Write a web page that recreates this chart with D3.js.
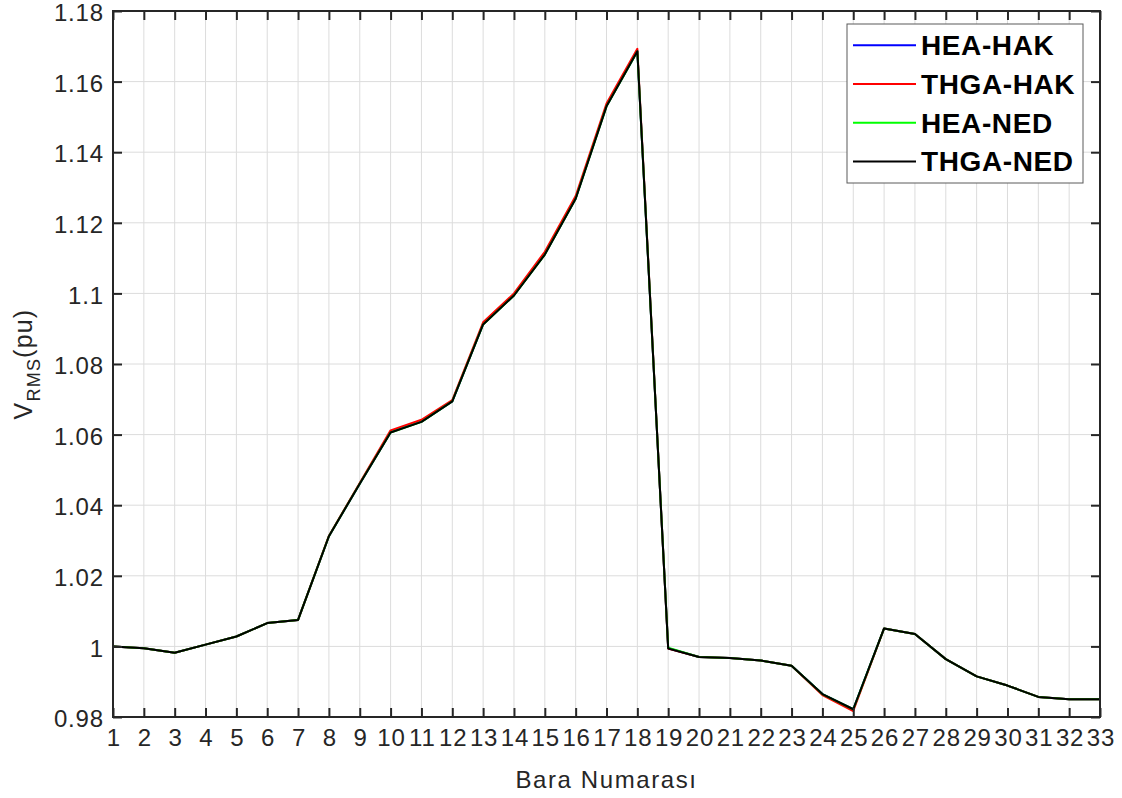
<!DOCTYPE html>
<html><head><meta charset="utf-8">
<script src="https://cdn.jsdelivr.net/npm/d3@7"></script>
<style>body{margin:0;background:#fff;} svg{display:block;font-family:"Liberation Sans",Arial,sans-serif;}</style>
</head><body>
<svg id="c" width="1122" height="798"></svg>
<script>
const buses = d3.range(1, 34);
const yTicks = [0.98, 1, 1.02, 1.04, 1.06, 1.08, 1.1, 1.12, 1.14, 1.16, 1.18];
const seriesNames = ["HEA-HAK", "THGA-HAK", "HEA-NED", "THGA-NED"];
const seriesColors = ["#0000ff", "#ff0000", "#00ff00", "#000000"];

const heaHak  = [1.0000,0.9995,0.9982,1.0005,1.0028,1.0066,1.0075,1.0312,1.0461,1.0607,1.0637,1.0694,1.0913,1.0995,1.1111,1.1269,1.1531,1.1686,0.9995,0.9970,0.9967,0.9960,0.9945,0.9865,0.9822,1.0051,1.0035,0.9964,0.9915,0.9889,0.9857,0.9850,0.9850];
const thgaHak = [1.0000,0.9995,0.9982,1.0005,1.0028,1.0066,1.0075,1.0313,1.0463,1.0612,1.0642,1.0698,1.0918,1.1000,1.1118,1.1276,1.1538,1.1693,0.9994,0.9970,0.9967,0.9960,0.9945,0.9862,0.9817,1.0051,1.0035,0.9964,0.9915,0.9889,0.9857,0.9850,0.9850];
const heaNed  = [1.0000,0.9995,0.9982,1.0005,1.0028,1.0066,1.0075,1.0312,1.0461,1.0606,1.0636,1.0694,1.0912,1.0994,1.1110,1.1268,1.1530,1.1685,0.9996,0.9970,0.9967,0.9960,0.9945,0.9865,0.9822,1.0051,1.0035,0.9964,0.9915,0.9889,0.9857,0.9850,0.9850];
const thgaNed = [1.0000,0.9995,0.9982,1.0005,1.0028,1.0066,1.0075,1.0312,1.0461,1.0606,1.0636,1.0694,1.0912,1.0994,1.1110,1.1268,1.1530,1.1686,0.9994,0.9970,0.9967,0.9960,0.9945,0.9865,0.9822,1.0051,1.0035,0.9964,0.9915,0.9889,0.9857,0.9850,0.9850];
const allSeries = [heaHak, thgaHak, heaNed, thgaNed];

const L = 113, R = 1100, T = 11, B = 717;
const svg = d3.select("#c");
const x = d3.scaleLinear().domain([1, 33]).range([L, R]);
const y = d3.scaleLinear().domain([0.98, 1.18]).range([B, T]);
const axisColor = "#262626";

// grid
const g = svg.append("g");
g.selectAll(".vg").data(buses).enter().append("line")
  .attr("x1", d => x(d)).attr("x2", d => x(d)).attr("y1", T).attr("y2", B)
  .attr("stroke", "#dcdcdc").attr("stroke-width", 1);
g.selectAll(".hg").data(yTicks).enter().append("line")
  .attr("y1", d => y(d)).attr("y2", d => y(d)).attr("x1", L).attr("x2", R)
  .attr("stroke", "#dcdcdc").attr("stroke-width", 1);

// lines
svg.append("clipPath").attr("id", "clip").append("rect")
  .attr("x", L).attr("y", T).attr("width", R - L).attr("height", B - T);
const line = d3.line().x((d, i) => x(buses[i])).y(d => y(d));
svg.append("g").attr("clip-path", "url(#clip)").selectAll("path").data(allSeries).enter().append("path")
  .attr("d", line).attr("fill", "none")
  .attr("stroke", (d, i) => seriesColors[i]).attr("stroke-width", 2).attr("stroke-linejoin", "round");

// axes
const tl = 9;
const fmt = d => (+d.toFixed(2)).toString();
const xAxisB = d3.axisBottom(x).tickValues(buses).tickSize(-tl).tickPadding(12).tickFormat(d => d);
const xAxisT = d3.axisTop(x).tickValues(buses).tickSize(-tl).tickFormat("");
const yAxisL = d3.axisLeft(y).tickValues(yTicks).tickSize(-tl).tickPadding(10).tickFormat(fmt);
const yAxisR = d3.axisRight(y).tickValues(yTicks).tickSize(-tl).tickFormat("");
function style(sel) {
  sel.select(".domain").remove();
  sel.selectAll(".tick line").attr("stroke", axisColor).attr("stroke-width", 2);
  sel.selectAll(".tick text").attr("fill", axisColor).style("font-size", "24px")
    .style("letter-spacing", "0.8px")
    .style("font-family", "'Liberation Sans', Arial, sans-serif");
}
svg.append("g").attr("transform", `translate(0,${B})`).call(xAxisB).call(style)
  .selectAll(".tick text").attr("dy", "0.71em").attr("dx", "0.4px");
svg.append("g").attr("transform", `translate(0,${T})`).call(xAxisT).call(style);
svg.append("g").attr("transform", `translate(${L},0)`).call(yAxisL).call(style)
  .selectAll(".tick text").attr("dy", "0.4em").attr("dx", "0.8px");
svg.append("g").attr("transform", `translate(${R},0)`).call(yAxisR).call(style);
svg.append("rect").attr("x", L).attr("y", T).attr("width", R - L).attr("height", B - T)
  .attr("fill", "none").attr("stroke", axisColor).attr("stroke-width", 2);

// axis labels
svg.append("text").attr("x", (L + R) / 2).attr("y", 788).attr("text-anchor", "middle")
  .attr("fill", axisColor).style("font-size", "24px").style("letter-spacing", "1.6px").text("Bara Numarası");
const yl = svg.append("text").attr("transform", `translate(32,${(T + B) / 2}) rotate(-90)`)
  .attr("text-anchor", "middle").attr("fill", axisColor).style("font-size", "25px").style("letter-spacing", "1.2px");
yl.append("tspan").text("V");
yl.append("tspan").attr("dy", 8).style("font-size", "18px").text("RMS");
yl.append("tspan").attr("dy", -8).text("(pu)");

// legend
const lg = svg.append("g");
lg.append("rect").attr("x", 847).attr("y", 24).attr("width", 236).attr("height", 159)
  .attr("fill", "#fff").attr("stroke", "#5a5a5a").attr("stroke-width", 1);
seriesNames.forEach((n, i) => {
  const cy = 45.3 + i * 38.7;
  lg.append("line").attr("x1", 853).attr("x2", 916).attr("y1", cy).attr("y2", cy)
    .attr("stroke", seriesColors[i]).attr("stroke-width", 2);
  lg.append("text").attr("x", 921).attr("y", cy).attr("dy", "0.36em")
    .style("font-size", "28px").style("font-weight", "bold").style("letter-spacing", "0.6px")
    .attr("fill", "#000").text(n);
});
</script>
</body></html>
